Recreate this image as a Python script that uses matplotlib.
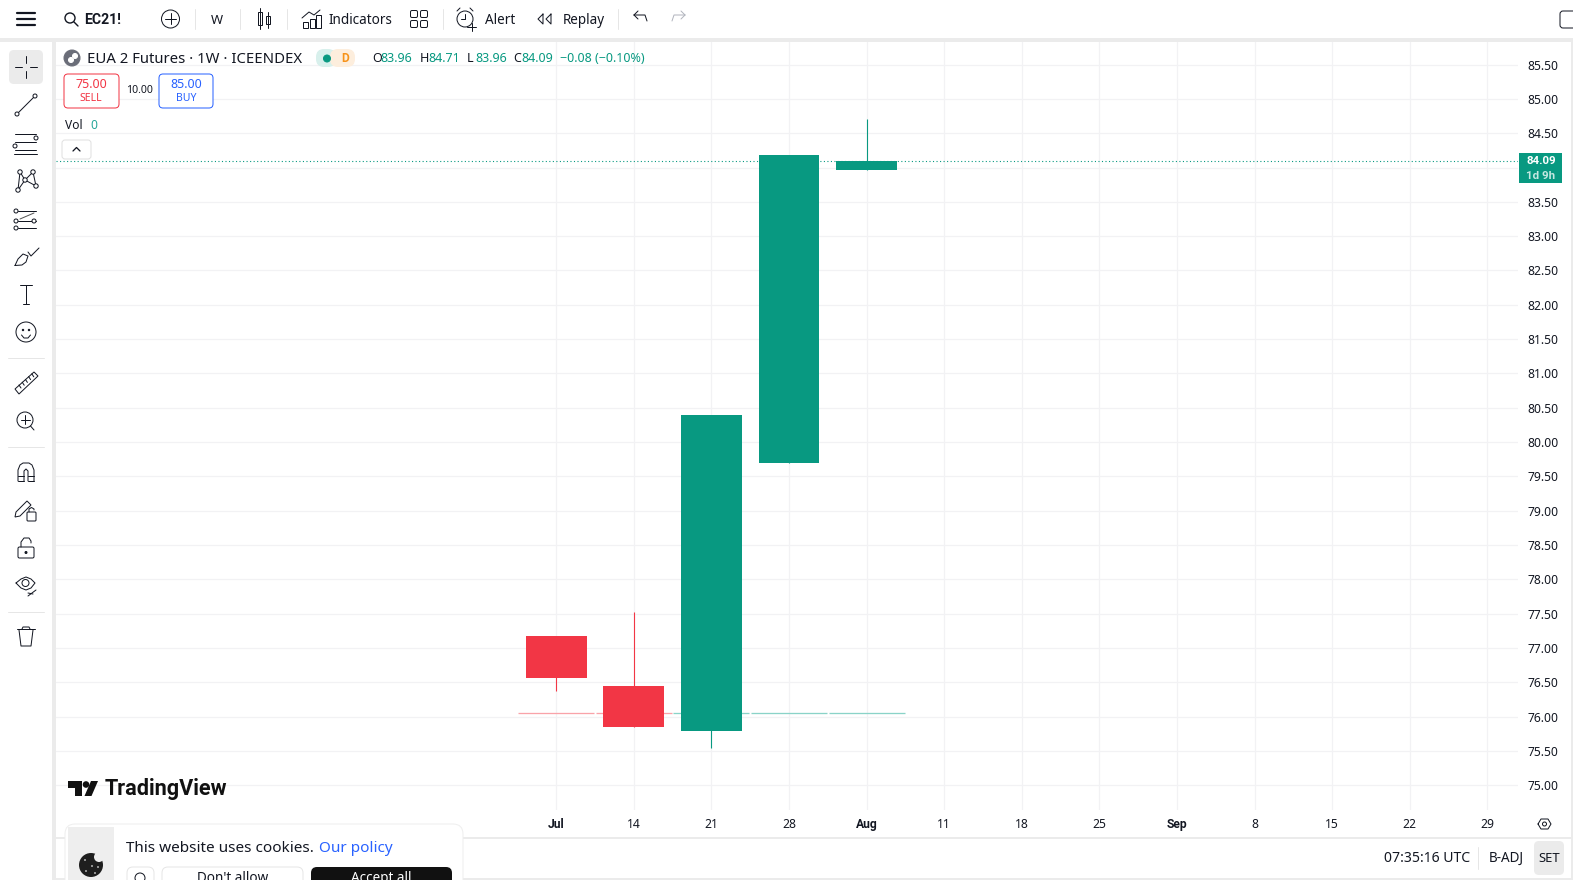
import matplotlib
matplotlib.use("Agg")
import matplotlib.pyplot as plt
from matplotlib.patches import Circle, FancyBboxPatch, Polygon, Rectangle

plt.rcParams['font.family'] = ['Noto Sans', 'DejaVu Sans']
BOLD_FONT = ['Roboto', 'DejaVu Sans']

# chart data
week_labels = ["Jul", "14", "21", "28", "Aug", "11", "18", "25", "Sep", "8", "15", "22", "29"]
bold_labels = ["Jul", "Aug", "Sep"]
opens = [77.18, 76.45, 75.80, 79.69, 83.96]
highs = [77.18, 77.53, 80.39, 84.18, 84.71]
closes = [76.57, 75.85, 80.39, 84.18, 84.09]
low_wicks = [76.38, 75.85, 75.55, 79.69, 83.96]
volume_line = [76.05, 76.05, 76.05, 76.05, 76.05]
volume_colors = ["#f9a3a9", "#f9a3a9", "#8ad3c8", "#8ad3c8", "#8ad3c8"]
price_ticks = [75.0, 75.5, 76.0, 76.5, 77.0, 77.5, 78.0, 78.5, 79.0, 79.5, 80.0,
               80.5, 81.0, 81.5, 82.0, 82.5, 83.0, 83.5, 84.0, 84.5, 85.0, 85.5]
last_price = 84.09

UP = "#089981"
DOWN = "#f23645"
BLUE = "#2962ff"
INK = "#131722"
GREY = "#ebebeb"
W, H = 1573, 880
PX = 0.72  # one pixel in points at dpi 100

fig = plt.figure(figsize=(W / 100, H / 100), dpi=100, facecolor="white")

# price pane, placed in pixels
left, right, top, bottom = 56, 1518, 42, 810
ax = fig.add_axes([left / W, 1 - bottom / H, (right - left) / W, (bottom - top) / H])
ax.set_xlim((left - 556.2) / 77.6, (right - 556.2) / 77.6)
ax.set_ylim(84 - (bottom - 167.5) / 68.66, 84 + (167.5 - top) / 68.66)
for s in ax.spines.values():
    s.set_visible(False)
ax.set_axisbelow(True)
ax.grid(True, color="#f2f2f4", lw=PX * 1.2)
ax.set_yticks(price_ticks)
ax.set_yticklabels(["%.2f" % p for p in price_ticks])
ax.yaxis.tick_right()
ax.tick_params(axis="y", length=0, pad=6.5, labelsize=8.7, labelcolor=INK)
ax.set_xticks(range(len(week_labels)))
ax.set_xticklabels(week_labels)
ax.tick_params(axis="x", length=0, pad=5.5, labelsize=8.7, labelcolor=INK)
for lab in ax.get_xticklabels():
    if lab.get_text() in bold_labels:
        lab.set_fontweight("bold")
        lab.set_family(BOLD_FONT)

for i in range(len(opens)):
    ax.hlines(volume_line[i], i - 0.49, i + 0.49, color=volume_colors[i], lw=PX * 1.3, zorder=2)
ax.axhline(last_price, color=UP, lw=PX * 1.1, ls=(0, (1, 2.2)), zorder=2)
for i in range(len(opens)):
    c = DOWN if i < 2 else UP
    ax.vlines(i, low_wicks[i], highs[i], color=c, lw=PX * 1.1, zorder=3)
    ax.bar(i, abs(closes[i] - opens[i]), bottom=min(opens[i], closes[i]), width=0.786, color=c, zorder=3)

# everything around the chart, in screen pixels
ui = fig.add_axes([0, 0, 1, 1], zorder=5)
ui.set_xlim(0, W)
ui.set_ylim(H, 0)
ui.axis("off")
ui.patch.set_alpha(0)


def txt(x, y, s, size=12, color=INK, ha="left", weight="normal"):
    kw = {"family": BOLD_FONT} if weight == "bold" else {}
    ui.text(x, y + 1.5, s, fontsize=size * PX, color=color, ha=ha, va="center", fontweight=weight, zorder=6, **kw)


def line(xs, ys, color=INK, lw=1.0):
    ui.plot(xs, ys, color=color, lw=lw * PX, solid_capstyle="round", solid_joinstyle="round", zorder=4)


def box(x0, y0, x1, y1, r=4, fc="white", ec="none", lw=1.0, z=2):
    ui.add_patch(FancyBboxPatch((x0 + r, y0 + r), x1 - x0 - 2 * r, y1 - y0 - 2 * r,
                                boxstyle="round,pad=%g,rounding_size=%g" % (r, r),
                                fc=fc, ec=ec, lw=lw * PX, zorder=z))


def ring(x, y, r, fc="none", ec=INK, lw=1.0, z=3):
    ui.add_patch(Circle((x, y), r, fc=fc, ec=ec, lw=lw * PX, zorder=z))


# frame bars
for r in [(0, 38, W, 4), (52, 38, 4, H - 38), (1571, 38, 2, H - 38), (56, 878, W - 56, 2)]:
    ui.add_patch(Rectangle((r[0], r[1]), r[2], r[3], fc="#ebebeb", ec="none"))
line([56, 1571], [838, 838], color="#ebebeb", lw=2)
ui.add_patch(Rectangle((1519, 153), 43, 30, fc=UP, ec="none"))
txt(1541, 160, "84.09", 11.5, "white", "center", "bold")
txt(1541, 174.5, "1d 9h", 11.5, "#c5e8e1", "center", "bold")

# top bar
for y in (13, 19, 25):
    line([17, 35], [y, y], lw=2.2)
ring(70, 18, 5, lw=1.4)
line([74, 78], [22, 26], lw=1.4)
txt(84, 18, "EC21!", 14, weight="bold")
ring(170.5, 19, 9)
line([165, 176], [19, 19])
line([170.5, 170.5], [13.5, 24.5])
for x in (195, 240, 287, 443, 618):
    line([x, x], [9, 29], color="#e6e6e6")
txt(217, 18.5, "W", 13, ha="center")
for x, y0, y1 in ((260, 12, 25), (268, 16, 24)):
    ui.add_patch(Rectangle((x - 2, y0), 4, y1 - y0, fc="white", ec=INK, lw=PX))
    line([x, x], [y0 - 4, y1 + 4])
for x, h in ((305, 6), (312, 9), (318, 13)):
    ui.add_patch(Rectangle((x - 2.5, 28 - h), 5, h, fc="white", ec=INK, lw=PX))
line([302, 309, 314, 320], [18, 12, 15, 10])
txt(329, 19, "Indicators", 13.5)
for x in (414, 424):
    for y in (14, 24):
        box(x - 3.5, y - 3.5, x + 3.5, y + 3.5, r=1.5, ec=INK, z=3)
ring(465, 19, 8)
line([465, 465, 461], [14, 19, 19])
line([457, 460], [11, 8])
line([470, 473], [8, 11])
line([467, 476], [27, 27])
line([471.5, 471.5], [23, 31])
txt(485, 19, "Alert", 13.5)
line([543, 538, 543, 543], [14, 19, 24, 14])
line([551, 546, 551, 551], [14, 19, 24, 14])
txt(563, 19, "Replay", 13.5)
line([634, 638], [15, 19])
line([634, 638], [15, 11])
line([634, 645, 647], [15, 15, 21])
line([685, 681], [15, 11], color="#b2b5be")
line([685, 681], [15, 19], color="#b2b5be")
line([685, 674, 672], [15, 15, 21], color="#b2b5be")
box(1560, 11, 1580, 28, r=3, ec=INK, z=3)

# left drawing tools
box(9, 50, 43, 84, r=5, fc=GREY)
line([26, 26], [56, 63])
line([26, 26], [71, 78])
line([15, 22], [67, 67])
line([30, 37], [67, 67])
ring(35, 96, 2)
ring(17, 114, 2)
line([18.5, 33.5], [112.5, 97.5])
for y in (134, 142, 150):
    line([15, 36], [y, y])
ring(36, 138, 2, fc="white")
ring(15, 146, 2, fc="white")
line([14, 37], [154, 154], color=INK)
pts = [(20, 172), (33, 172), (25, 180), (18, 190), (36, 186)]
for a, b in ((0, 3), (0, 2), (1, 2), (2, 4), (1, 4), (2, 3)):
    line([pts[a][0], pts[b][0]], [pts[a][1], pts[b][1]])
for p in pts:
    ring(p[0], p[1], 2.2, fc="white", z=5)
for y in (211, 221, 228):
    line([18, 36], [y, y])
    ring(16, y, 2, fc="white", z=5)
ring(34, 221, 2, fc="white", z=5)
line([20, 34], [219, 213], color="#555555")
line([15, 18, 23, 28, 26, 22, 15], [265.5, 259, 254, 256, 262, 265, 265.5])
line([28, 31, 39], [252, 256, 248])
line([20, 32], [285, 285])
line([26, 26], [285, 304])
line([23, 29], [304, 304])
ring(26, 332, 10)
ring(23, 330, 0.7, fc=INK)
ring(29, 330, 0.7, fc=INK)
line([21.5, 24, 28, 30.5], [335, 338, 338, 335])
for y in (358, 447.5, 612):
    line([8, 44], [y, y], color="#e6e6e6")
ui.add_patch(Polygon([(15, 389), (34, 372), (38, 376), (19, 394)], closed=True, fc="white", ec=INK, lw=PX))
for k in range(5):
    line([19 + 3.2 * k, 21 + 3.2 * k], [385 - 2.8 * k, 388 - 2.8 * k])
ring(25, 420, 8)
line([20.5, 29.5], [420, 420])
line([25, 25], [415.5, 424.5])
line([30.5, 34], [426, 430])
# magnet
line([18, 18, 20, 23, 29, 32, 34, 34], [481, 470, 465, 463, 463, 465, 470, 481])
line([24, 24, 26, 28, 28], [481, 471, 469, 471, 481])
line([18, 24], [481, 481])
line([28, 34], [481, 481])
line([18, 24], [476, 476])
line([28, 34], [476, 476])
ui.add_patch(Polygon([(16, 512), (27, 501), (31, 505), (20, 516), (15, 517)], closed=True, fc="white", ec=INK, lw=PX))
box(27, 512, 36, 521, r=1, ec=INK, z=3)
line([29, 29, 31.5, 34, 34], [512, 509, 507.5, 509, 510])
box(18, 547, 34, 558, r=1.5, ec=INK, z=3)
ring(26, 552.5, 1, fc=INK)
line([21, 21, 24, 29, 31, 31], [547, 542, 538, 538, 541, 543])
line([16, 21, 26, 31, 35, 31, 26, 21, 16], [583, 579, 577, 579, 583, 588, 590, 588, 583])
ring(25.5, 583, 3.5)
line([28, 36], [596, 590])
line([28, 33], [593, 594])
line([17, 35], [629, 629])
line([22, 23, 29, 30], [629, 627, 627, 629])
line([19, 21, 31, 33], [630, 646, 646, 630])

# legend block
ring(72, 58, 8, fc="#6a6d78", ec="#6a6d78")
ring(75, 56, 2.5, fc="white", ec="white")
ring(71, 60, 2.5, fc="white", ec="white")
txt(87, 58, "EUA 2 Futures · 1W · ICEENDEX", 14.9)
box(316, 49, 336, 67, r=8, fc="#d8f0ec")
box(330, 49, 355, 67, r=8, fc="#fdeedd")
ring(327, 58.5, 3.5, fc=UP, ec=UP)
txt(345, 57.5, "D", 12, "#f7931a", "center", "bold")
ohlc = [(372, "O", "83.96"), (420, "H", "84.71"), (467, "L", "83.96"), (513, "C", "84.09")]
for x, a, b in ohlc:
    txt(x, 57.5, a, 12.5)
    txt(x + 8.5, 57.5, b, 12.5, UP)
txt(560, 57.5, "\u22120.08 (\u22120.10%)", 12.5, UP)
box(64, 74, 119, 108, r=4, ec=DOWN, z=3)
txt(91, 82.5, "75.00", 12.5, DOWN, "center")
txt(91, 97, "SELL", 10.5, DOWN, "center")
txt(139, 89, "10.00", 10.5, ha="center")
box(159, 74, 213, 108, r=4, ec=BLUE, z=3)
txt(186, 82.5, "85.00", 12.5, BLUE, "center")
txt(186, 97, "BUY", 10.5, BLUE, "center")
txt(65, 124, "Vol", 12)
txt(90, 124, "0", 12, "#26a69a")
box(62, 140, 91, 159, r=3, ec="#e0e0e0", z=3)
line([73, 76.5, 80], [151, 147.5, 151], lw=1.3)

# logo
ui.add_patch(Polygon([(68, 781), (82, 781), (82, 796), (75, 796), (75, 788), (68, 788)], closed=True, fc="#111111", ec="none"))
ring(86, 784.5, 3.3, fc="#111111", ec="none")
ui.add_patch(Polygon([(91, 781), (98, 781), (91.5, 796), (84.5, 796)], closed=True, fc="#111111", ec="none"))
txt(105, 788, "TradingView", 21.6, "#111111", weight="bold")

# cookie card
box(65, 824, 463, 900, r=10, fc="white", ec="#eeeeee", z=6)
ui.add_patch(Rectangle((68, 827), 46, 60, fc="#eeeeee", ec="none", zorder=7))
ring(91, 865, 12, fc="#1e1e1e", ec="none", z=8)
ring(99, 857, 5, fc="#eeeeee", ec="none", z=8)
for x, y in ((85, 860), (92, 866), (86, 871), (95, 873), (98, 867)):
    ring(x, y, 0.8, fc="white", ec="none", z=9)


def ctxt(x, y, s, color=INK, size=15.6, ha="left"):
    ui.text(x, y, s, fontsize=size * PX, color=color, ha=ha, va="center", zorder=9)


ctxt(126, 848, "This website uses cookies.", size=15.3)
ctxt(319, 848, "Our policy", BLUE, size=15.3)
box(127, 867, 154, 900, r=6, ec="#e6e6e6", z=8)
ring(140, 878, 5, z=9)
box(162, 867, 303, 900, r=6, ec="#e6e6e6", z=8)
ctxt(232.5, 879, "Don't allow", INK, 13.5, "center")
box(311, 867, 452, 900, r=6, fc="#111111", z=8)
ctxt(381.5, 879, "Accept all", "white", 13.5, "center")

# bottom bar
txt(1384, 856.5, "07:35:16 UTC", 14)
line([1478, 1478], [847, 869], color="#e6e6e6")
txt(1489, 856.5, "B-ADJ", 13.5)
box(1534, 841, 1564, 875, r=5, fc=GREY)
txt(1549, 856.5, "SET", 13, ha="center")
hx = [(1538, 824), (1541, 819), (1548, 819), (1551, 824), (1548, 829), (1541, 829), (1538, 824)]
line([p[0] for p in hx], [p[1] for p in hx])
ring(1544.5, 824, 2)

fig.savefig("out.png", dpi=100, facecolor="white")
